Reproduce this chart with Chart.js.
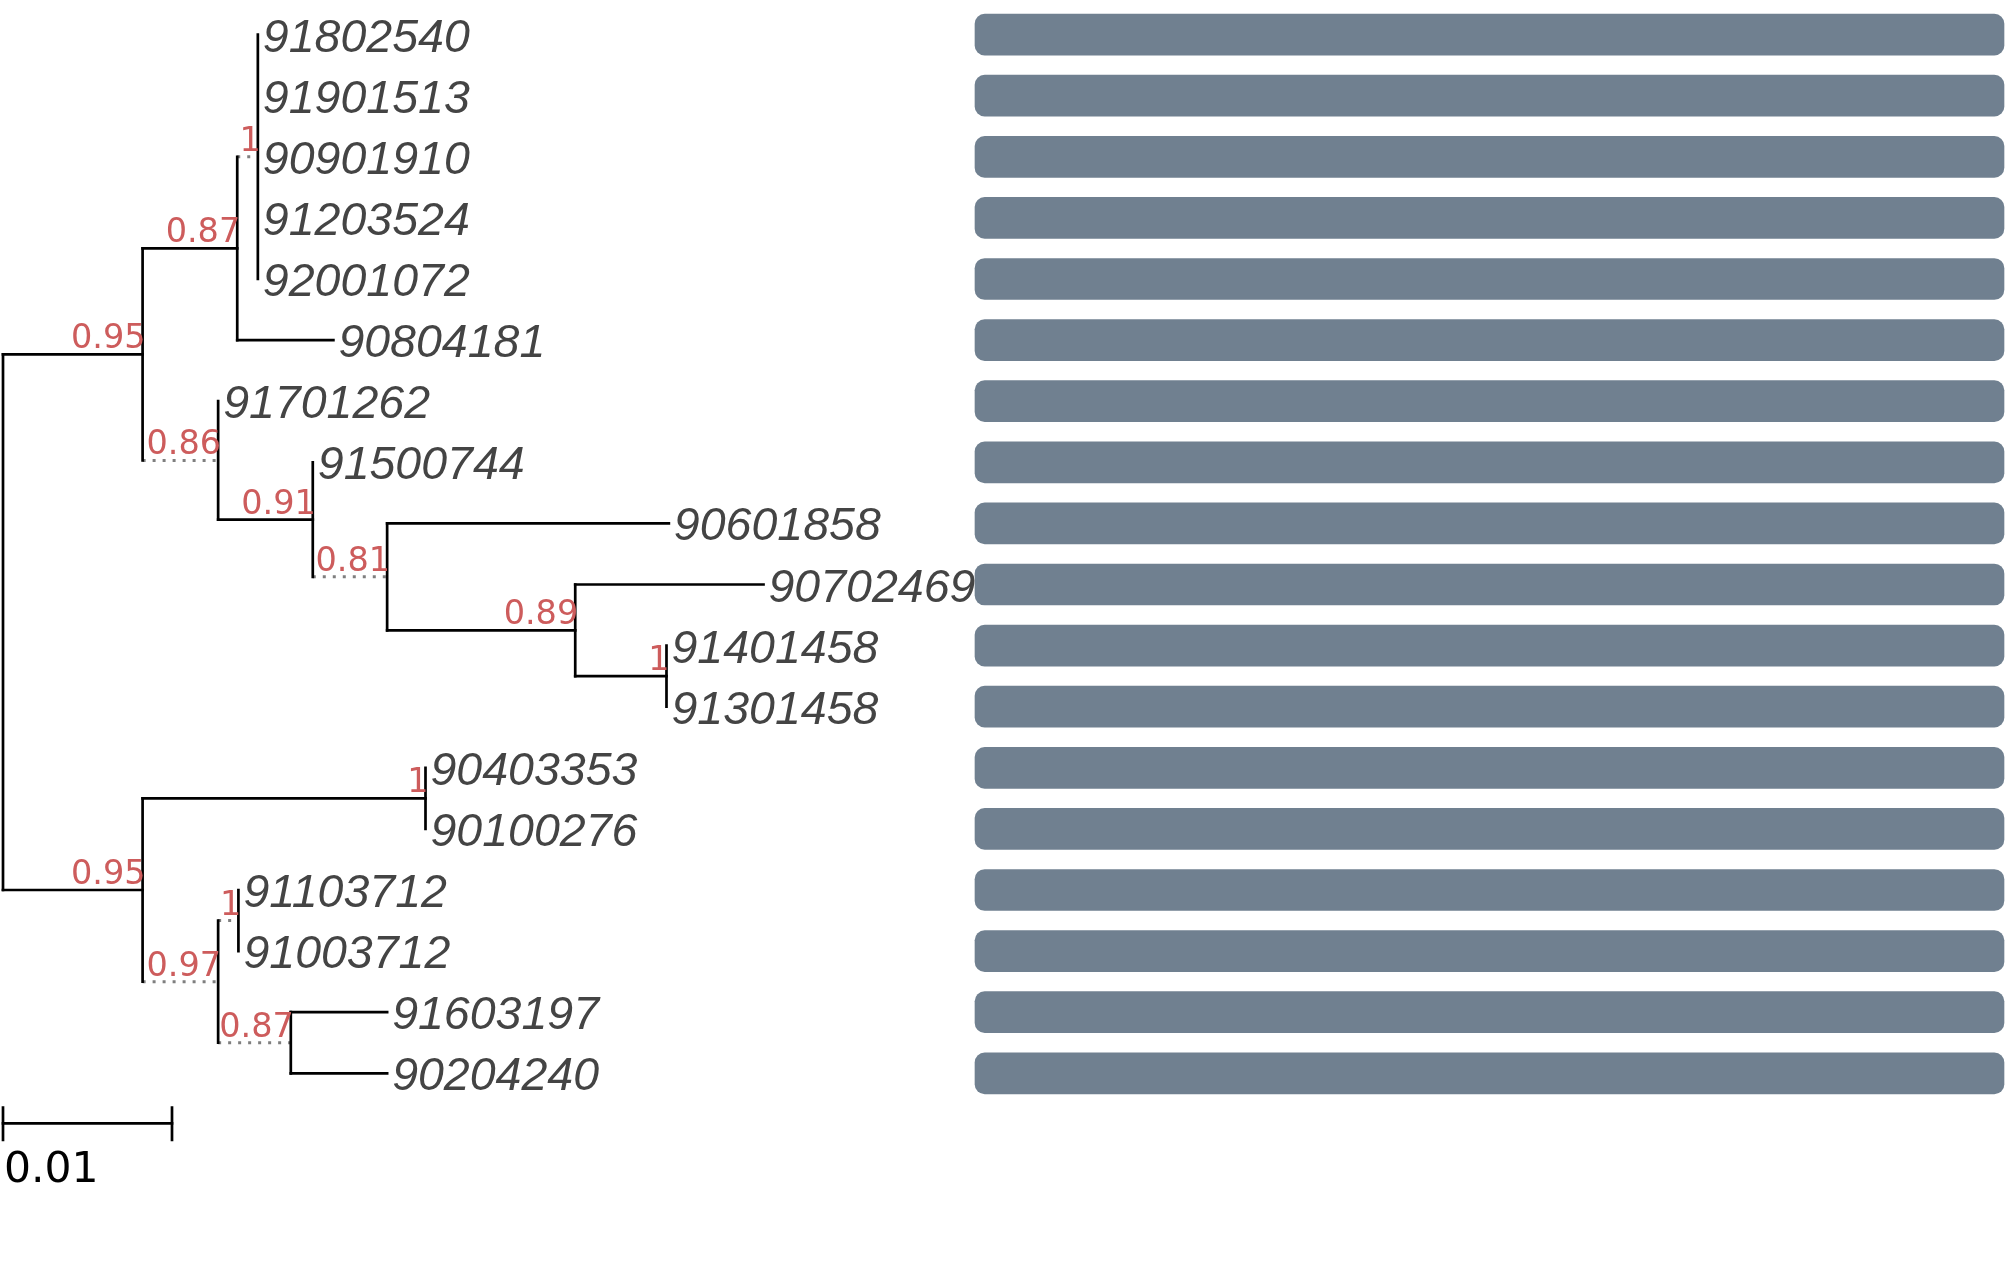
<!DOCTYPE html>
<html>
<head>
<meta charset="utf-8">
<title>Tree with bars</title>
<script src="https://cdn.jsdelivr.net/npm/chart.js@4.4.1/dist/chart.umd.min.js"></script>
<style>
  html, body { margin: 0; padding: 0; background: #fff; overflow: hidden; }
  #wrap { width: 2007px; height: 1277px; position: relative; }
</style>
</head>
<body>
<div id="wrap"><canvas id="treeChart"></canvas></div>
<script>
// tips, top to bottom
const tipLabels = ['91802540', '91901513', '90901910', '91203524', '92001072', '90804181',
  '91701262', '91500744', '90601858', '90702469', '91401458', '91301458',
  '90403353', '90100276', '91103712', '91003712', '91603197', '90204240'];
const tipParent = ['B', 'B', 'B', 'B', 'B', 'A', 'C', 'D', 'E', 'F', 'G', 'G', 'I', 'I', 'K', 'K', 'L', 'L'];
const tipLength = [0, 0, 0, 0, 0, 0.00569, 0, 0, 0.01667, 0.01114, 0, 0, 0, 0, 0, 0, 0.0057, 0.0057];

// internal nodes
const nodeIds = ['R', 'U', 'A', 'B', 'C', 'D', 'E', 'F', 'G', 'H', 'I', 'J', 'K', 'L'];
const nodeParent = [null, 'R', 'U', 'A', 'U', 'C', 'D', 'E', 'F', 'R', 'H', 'H', 'J', 'J'];
const nodeLength = [0, 0.00826, 0.0056, 0.00122, 0.00447, 0.0056, 0.0044, 0.01113, 0.0054, 0.00826, 0.01674, 0.00447, 0.0012, 0.0043];
const nodeSupport = [null, 0.95, 0.87, 1, 0.86, 0.91, 0.81, 0.89, 1, 0.95, 1, 0.97, 1, 0.87];

// bar panel (one bar per tip)
const coverage = [1, 1, 1, 1, 1, 1, 1, 1, 1, 1, 1, 1, 1, 1, 1, 1, 1, 1];

const scaleBarLength = 0.01;
const shortBranch = 0.005; // branches shorter than this are drawn dotted

// --- layout of the tree ---
const idx = id => nodeIds.indexOf(id);
const nodeX = {};
function depth(id) {
  if (nodeX[id] !== undefined) return nodeX[id];
  const i = idx(id);
  const p = nodeParent[i];
  nodeX[id] = p === null ? 0 : depth(p) + nodeLength[i];
  return nodeX[id];
}
nodeIds.forEach(depth);
const tipX = tipLabels.map((_, i) => nodeX[tipParent[i]] + tipLength[i]);

const nodeY = {}, nodeSpan = {};
function yOf(id) {
  if (nodeY[id] !== undefined) return nodeY[id];
  const kids = [];
  nodeIds.forEach((c, i) => { if (nodeParent[i] === id) kids.push(yOf(c)); });
  tipParent.forEach((p, i) => { if (p === id) kids.push(i); });
  nodeSpan[id] = [Math.min(...kids), Math.max(...kids)];
  nodeY[id] = kids.reduce((a, b) => a + b, 0) / kids.length;
  return nodeY[id];
}
yOf('R');

// --- segments ---
const segments = [];
nodeIds.forEach((id, i) => {
  const [y0, y1] = nodeSpan[id];
  segments.push({ pts: [{ x: nodeX[id], y: y0 }, { x: nodeX[id], y: y1 }], dotted: false });
  const p = nodeParent[i];
  if (p !== null && nodeLength[i] > 0) {
    segments.push({ pts: [{ x: nodeX[p], y: nodeY[id] }, { x: nodeX[id], y: nodeY[id] }], dotted: nodeLength[i] < shortBranch });
  }
});
tipLabels.forEach((_, i) => {
  if (tipLength[i] > 0) {
    const p = tipParent[i];
    segments.push({ pts: [{ x: nodeX[p], y: i }, { x: tipX[i], y: i }], dotted: tipLength[i] < shortBranch });
  }
});
const n = tipLabels.length;
const sbY = n - 1 + 0.82;
segments.push({ pts: [{ x: 0, y: sbY }, { x: scaleBarLength, y: sbY }], dotted: false });
segments.push({ pts: [{ x: 0, y: sbY - 0.26 }, { x: 0, y: sbY + 0.27 }], dotted: false });
segments.push({ pts: [{ x: scaleBarLength, y: sbY - 0.26 }, { x: scaleBarLength, y: sbY + 0.27 }], dotted: false });

const lineSets = segments.map(s => ({
  type: 'line',
  data: s.pts,
  xAxisID: 'x',
  yAxisID: 'y',
  showLine: true,
  borderColor: s.dotted ? '#7f7f7f' : '#000000',
  borderWidth: s.dotted ? 3 : 2.7,
  borderDash: s.dotted ? [3, 7] : [],
  borderCapStyle: s.dotted ? 'butt' : 'square',
  pointRadius: 0,
  tension: 0,
  fill: false,
}));

const barSet = {
  type: 'bar',
  indexAxis: 'y',
  xAxisID: 'xb',
  yAxisID: 'y',
  data: coverage.map((v, i) => ({ y: i, x: [0, v] })),
  backgroundColor: '#708090',
  borderWidth: 0,
  borderRadius: 10,
  borderSkipped: false,
  grouped: false,
  barThickness: 41,
};

// --- labels plugin ---
const treeText = {
  id: 'treeText',
  afterDatasetsDraw(chart) {
    const ctx = chart.ctx;
    const sx = chart.scales.x, sy = chart.scales.y;
    ctx.save();
    ctx.textBaseline = 'alphabetic';

    ctx.font = 'italic 46.5px "Liberation Sans", Arial, sans-serif';
    ctx.fillStyle = '#444444';
    ctx.textAlign = 'left';
    tipLabels.forEach((t, i) => {
      ctx.fillText(t, sx.getPixelForValue(tipX[i]) + 5, sy.getPixelForValue(i) + 17);
    });

    ctx.font = '33.5px "DejaVu Sans", sans-serif';
    ctx.fillStyle = '#cd5c5c';
    ctx.textAlign = 'right';
    nodeIds.forEach((id, i) => {
      if (nodeSupport[i] === null) return;
      ctx.fillText(String(nodeSupport[i]), sx.getPixelForValue(nodeX[id]) + 3, sy.getPixelForValue(nodeY[id]) - 6);
    });

    ctx.font = '42.5px "DejaVu Sans", sans-serif';
    ctx.fillStyle = '#000000';
    ctx.textAlign = 'left';
    ctx.fillText(String(scaleBarLength), sx.getPixelForValue(0) + 1, sy.getPixelForValue(sbY) + 59);
    ctx.restore();
  }
};

const rowPx = 61.1, row0Px = 34.6, unitPx = 16900, rootPx = 3;
const W = 2007, H = 1277;
const barLeft = 975, barRight = 2004;

new Chart(document.getElementById('treeChart'), {
  type: 'scatter',
  data: { datasets: [barSet, ...lineSets] },
  options: {
    responsive: true,
    maintainAspectRatio: false,
    animation: false,
    events: [],
    layout: { padding: 0 },
    plugins: { legend: { display: false }, tooltip: { enabled: false } },
    scales: {
      x: { type: 'linear', display: false, offset: false, min: -rootPx / unitPx, max: (W - rootPx) / unitPx },
      xb: { type: 'linear', axis: 'x', display: false, offset: false,
            min: -barLeft / (barRight - barLeft), max: (W - barLeft) / (barRight - barLeft) },
      y: { type: 'linear', display: false, offset: false, reverse: true,
           min: -row0Px / rowPx, max: (H - row0Px) / rowPx },
    },
  },
  plugins: [treeText],
});
</script>
</body>
</html>
